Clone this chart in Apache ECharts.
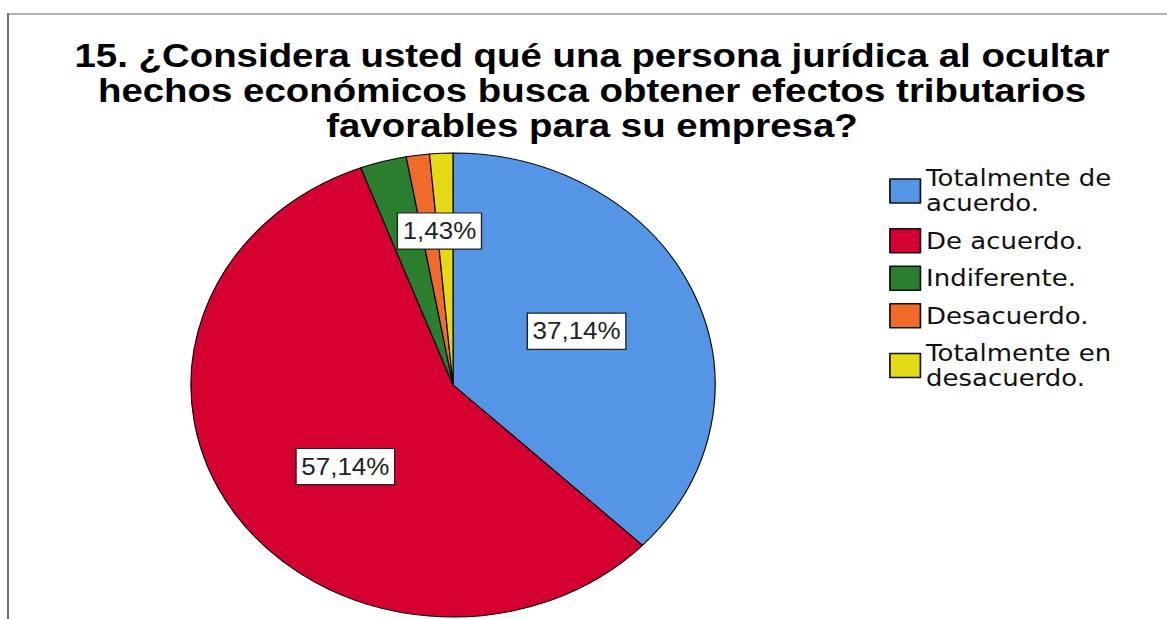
<!DOCTYPE html>
<html>
<head>
<meta charset="utf-8">
<script src="https://cdn.jsdelivr.net/npm/echarts@6/dist/echarts.min.js"></script>
<style>
  html, body { margin: 0; padding: 0; background: #fff; }
  #wrap { position: absolute; left: 0; top: 0; width: 1167px; height: 619px; overflow: hidden; background: #fff; }
  #chart { position: absolute; left: 0; top: 0; width: 1033px; height: 619px; transform: scaleX(1.1297); transform-origin: 0 0; }
  #frameTop { position: absolute; left: 7px; top: 13px; width: 1160px; height: 2px; background: #b4b4b4; }
  #frameLeft { position: absolute; left: 7px; top: 13px; width: 2px; height: 606px; background: #6e6e6e; }
</style>
</head>
<body>
<div id="wrap">
  <div id="chart"></div>
  <div id="frameTop"></div>
  <div id="frameLeft"></div>
</div>
<script>
const titleText = '15. ¿Considera usted qué una persona jurídica al ocultar\nhechos económicos busca obtener efectos tributarios\nfavorables para su empresa?';
const categories = ['Totalmente de acuerdo.', 'De acuerdo.', 'Indiferente.', 'Desacuerdo.', 'Totalmente en desacuerdo.'];
const legendLabels = ['Totalmente de\nacuerdo.', 'De acuerdo.', 'Indiferente.', 'Desacuerdo.', 'Totalmente en\ndesacuerdo.'];
const percentages = [37.14, 57.14, 2.86, 1.43, 1.43];
const labelShown = [true, true, false, true, false];
const colors = ['#5595e5', '#d30030', '#2a7e2e', '#f06a2a', '#e3d915'];

const labelOffsets = { 0: [0, -7], 1: [4, 16], 3: [4, -36] };

const chart = echarts.init(document.getElementById('chart'), null, { renderer: 'svg' });

const data = categories.map((name, i) => ({
  name: name,
  value: percentages[i],
  itemStyle: { color: colors[i] },
  label: { show: labelShown[i] }
}));

chart.setOption({
  animation: false,
  backgroundColor: 'transparent',
  title: {
    text: titleText,
    left: 524,
    top: 38,
    padding: 0,
    textAlign: 'center',
    textStyle: {
      fontFamily: 'Liberation Sans',
      fontWeight: 'bold',
      fontSize: 34,
      lineHeight: 35,
      color: '#000'
    }
  },
  legend: {
    orient: 'vertical',
    left: 782,
    top: 161,
    itemWidth: 27,
    itemHeight: 24,
    itemGap: 12,
    icon: 'rect',
    selectedMode: false,
    data: categories,
    formatter: function (name) { return legendLabels[categories.indexOf(name)]; },
    itemStyle: { borderColor: '#111', borderWidth: 1.5 },
    textStyle: {
      fontFamily: 'DejaVu Sans',
      fontSize: 23,
      lineHeight: 25,
      color: '#111'
    }
  },
  series: [{
    type: 'pie',
    center: [401, 385],
    radius: 232,
    startAngle: 90,
    clockwise: true,
    avoidLabelOverlap: false,
    silent: true,
    emphasis: { disabled: true },
    itemStyle: { borderColor: '#000', borderWidth: 1 },
    label: {
      position: 'inside',
      formatter: function (p) { return p.value.toFixed(2).replace('.', ',') + '%'; },
      fontFamily: 'Liberation Sans',
      fontSize: 23,
      lineHeight: 25,
      color: '#222',
      backgroundColor: '#fff',
      borderColor: '#222',
      borderWidth: 1.2,
      padding: [5, 4, 5, 4]
    },
    labelLine: { show: false },
    labelLayout: function (params) {
      const o = labelOffsets[params.dataIndex];
      return o ? { dx: o[0], dy: o[1] } : {};
    },
    data: data
  }]
});
</script>
</body>
</html>
